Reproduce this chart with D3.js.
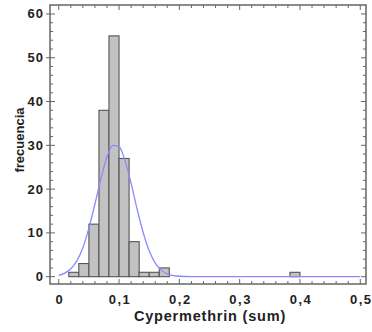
<!DOCTYPE html>
<html>
<head>
<meta charset="utf-8">
<script src="https://cdn.jsdelivr.net/npm/d3@7"></script>
<style>
    body { margin: 0; background: #fff; }
    text { font-family: "Liberation Sans", Arial, sans-serif; font-weight: bold; fill: #222; }
</style>
</head>
<body>
<div id="chart"></div>
<script>
// histogram bins (lower edge) and counts
let binStarts = [0.0167, 0.0333, 0.05, 0.0667, 0.0833, 0.1, 0.1167, 0.1333, 0.15, 0.1667, 0.3833]
let binWidth = 0.01667
let counts = [1, 3, 12, 38, 55, 27, 8, 1, 1, 2, 1]
// fitted normal curve
let curveX = [0, 0.01, 0.02, 0.03, 0.04, 0.05, 0.06, 0.07, 0.08, 0.09, 0.1, 0.11, 0.12, 0.13, 0.14, 0.15, 0.16, 0.17, 0.18, 0.19, 0.2, 0.22, 0.25, 0.3, 0.4, 0.5]
let curveY = [0.3, 0.8, 1.8, 3.6, 6.6, 11.1, 16.6, 22.4, 27.4, 30.0, 29.7, 26.5, 21.3, 15.4, 10.1, 5.9, 3.1, 1.5, 0.65, 0.25, 0.1, 0.02, 0, 0, 0, 0]
let xTicks = [0, 0.1, 0.2, 0.3, 0.4, 0.5]
let yTicks = [0, 10, 20, 30, 40, 50, 60]

let width = 372
let height = 332
let plotLeft = 50, plotRight = 366, plotTop = 5, plotBottom = 284

let svg = d3.select("#chart")
    .append("svg")
    .attr("width", width)
    .attr("height", height)

let x = d3.scaleLinear().domain([-0.0145, 0.5095]).range([plotLeft, plotRight])
let y = d3.scaleLinear().domain([-1.67, 62.05]).range([plotBottom, plotTop])

// bars
svg.selectAll("rect.bar")
    .data(counts)
    .enter()
    .append("rect")
    .attr("class", "bar")
    .attr("x", (d, i) => x(binStarts[i]))
    .attr("width", (d, i) => x(binStarts[i] + binWidth) - x(binStarts[i]))
    .attr("y", d => y(d))
    .attr("height", d => y(0) - y(d))
    .attr("fill", "#c2c2c2")
    .attr("stroke", "#555")
    .attr("stroke-width", 1.1)

// normal curve
let line = d3.line()
    .x((d, i) => x(curveX[i]))
    .y(d => y(d))
    .curve(d3.curveMonotoneX)
svg.append("path")
    .datum(curveY)
    .attr("d", line)
    .attr("fill", "none")
    .attr("stroke", "#8a8aff")
    .attr("stroke-width", 1.3)

// frame
svg.append("rect")
    .attr("x", plotLeft)
    .attr("y", plotTop)
    .attr("width", plotRight - plotLeft)
    .attr("height", plotBottom - plotTop)
    .attr("fill", "none")
    .attr("stroke", "#666")
    .attr("stroke-width", 1.5)

// ticks: major every 0.1 / 10, minor every 0.02 / 2
let xMinor = d3.range(0, 0.501, 0.02)
let yMinor = d3.range(0, 61, 2)
let tickColor = "#666"

function xTickMarks(yPos, dir) {
    svg.selectAll(null)
        .data(xMinor)
        .enter()
        .append("line")
        .attr("x1", d => x(d)).attr("x2", d => x(d))
        .attr("y1", yPos)
        .attr("y2", (d, i) => yPos + dir * (i % 5 === 0 ? 5 : 3))
        .attr("stroke", tickColor)
}
function yTickMarks(xPos, dir) {
    svg.selectAll(null)
        .data(yMinor)
        .enter()
        .append("line")
        .attr("y1", d => y(d)).attr("y2", d => y(d))
        .attr("x1", xPos)
        .attr("x2", (d, i) => xPos + dir * (i % 5 === 0 ? 5 : 3))
        .attr("stroke", tickColor)
}
xTickMarks(plotBottom, -1)
xTickMarks(plotTop, 1)
yTickMarks(plotLeft, 1)
yTickMarks(plotRight, -1)

// major outward stubs on left side
svg.selectAll(null).data(yTicks).enter().append("line")
    .attr("x1", plotLeft - 4).attr("x2", plotLeft)
    .attr("y1", d => y(d)).attr("y2", d => y(d))
    .attr("stroke", tickColor)

// tick labels
let fmt = d => String(d).replace(".", ",")
svg.selectAll("text.xlab")
    .data(xTicks)
    .enter()
    .append("text")
    .attr("class", "xlab")
    .attr("x", d => x(d) + 1)
    .attr("y", 304)
    .attr("text-anchor", "middle")
    .style("font-size", "13px")
    .style("letter-spacing", "1.5px")
    .text(fmt)

svg.selectAll("text.ylab")
    .data(yTicks)
    .enter()
    .append("text")
    .attr("class", "ylab")
    .attr("x", 44)
    .attr("y", d => y(d) + 4.5)
    .attr("text-anchor", "end")
    .style("font-size", "13px")
    .style("letter-spacing", "1px")
    .text(d => d)

// axis titles
svg.append("text")
    .attr("x", 210)
    .attr("y", 321)
    .attr("text-anchor", "middle")
    .style("font-size", "14.5px")
    .style("letter-spacing", "0.8px")
    .text("Cypermethrin (sum)")

svg.append("text")
    .attr("transform", "translate(24,140) rotate(-90)")
    .attr("text-anchor", "middle")
    .style("font-size", "13px")
    .text("frecuencia")
</script>
</body>
</html>
